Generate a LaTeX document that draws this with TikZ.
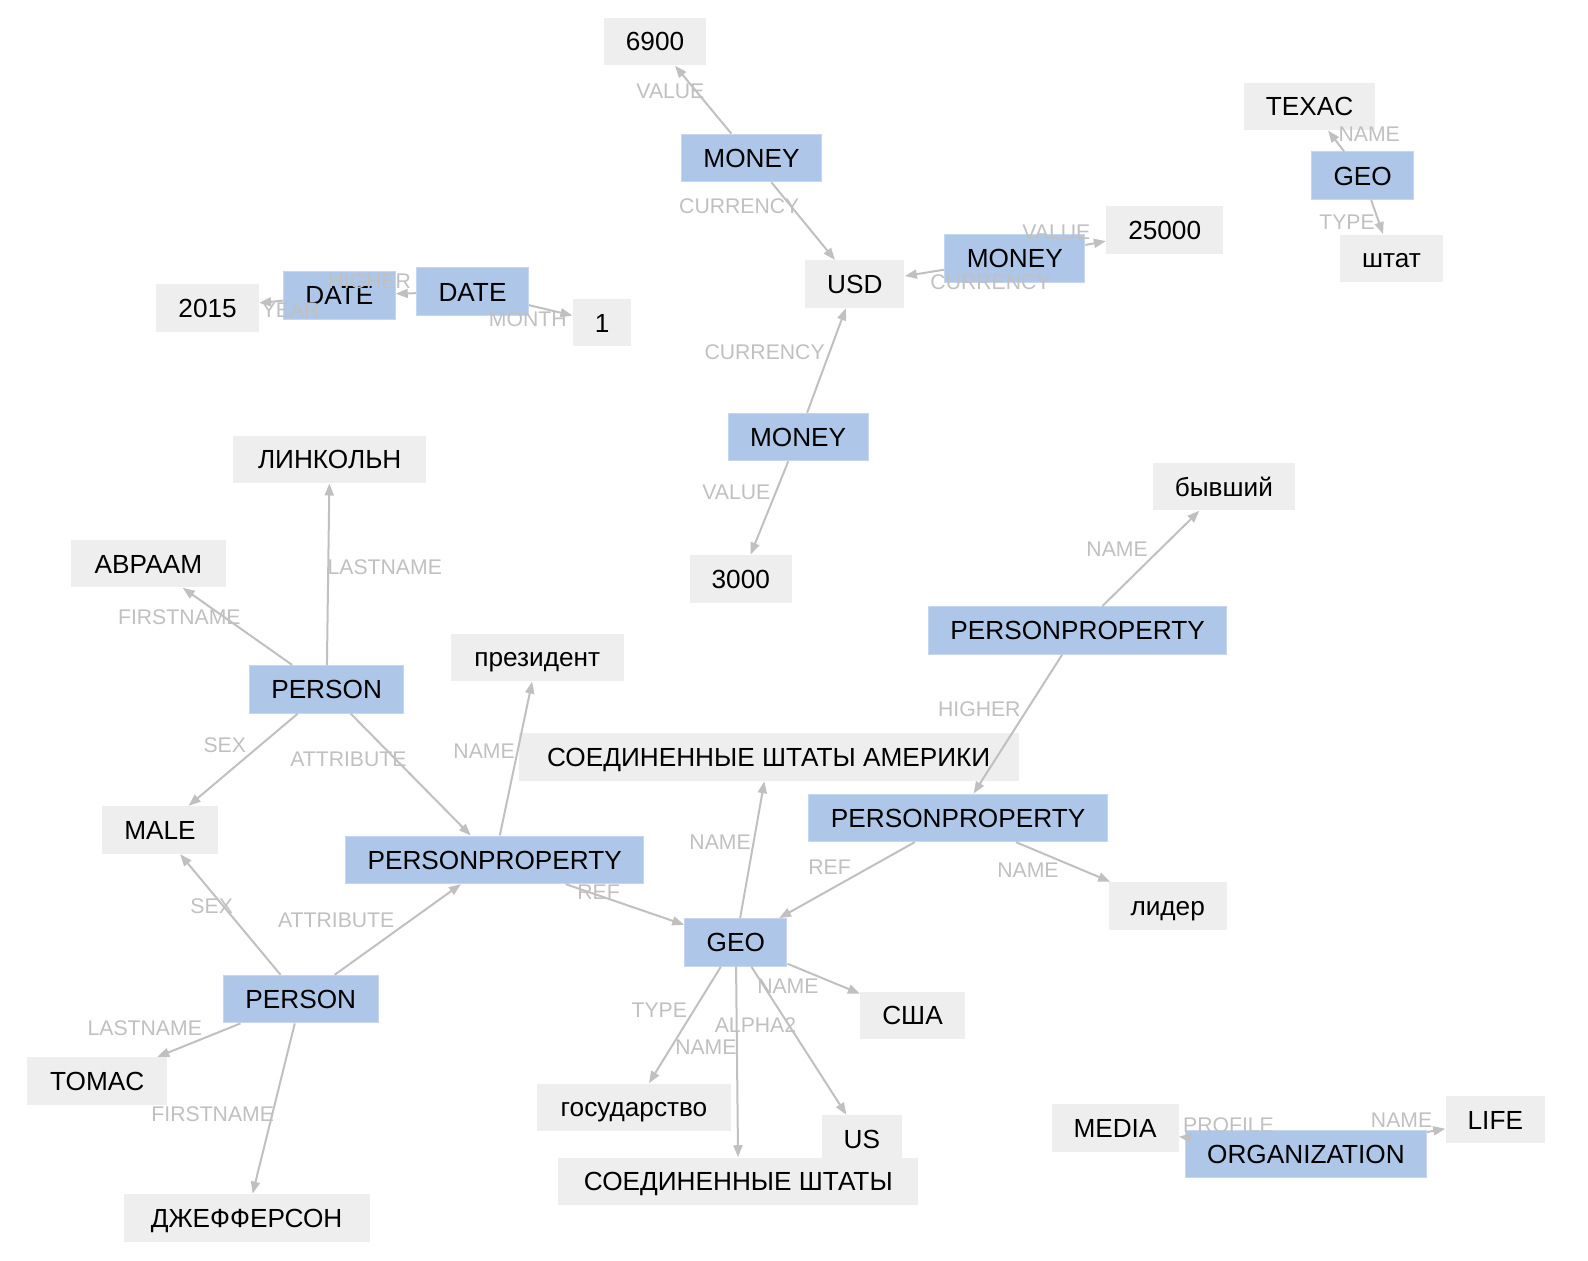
\documentclass[tikz,border=0pt]{standalone}
\usepackage{fontspec}
\setmainfont{Liberation Sans}
\usetikzlibrary{arrows.meta}
\definecolor{entBlue}{RGB}{174,199,232}
\definecolor{entLine}{RGB}{198,214,240}
\definecolor{valGray}{RGB}{238,238,238}
\definecolor{relGray}{RGB}{192,192,192}

\begin{document}
\begin{tikzpicture}[x=0.5pt,y=-0.5pt,
      ent/.style={fill=entBlue,draw=entLine,line width=0.5pt,minimum height=23.8pt,inner xsep=11pt,text height=9.4pt,text depth=0pt,font=\fontsize{13.1}{15}\selectfont},
      val/.style={fill=valGray,minimum height=23.8pt,inner xsep=11pt,text height=9.4pt,text depth=0pt,font=\fontsize{13.1}{15}\selectfont},
      rel/.style={-{Triangle[length=6pt,width=4.5pt]},relGray,line width=1pt},
      lbl/.style={text=relGray,inner sep=0pt,font=\fontsize{10.6}{12}\selectfont}]
    \useasboundingbox (0,0) rectangle (1588,1260);
    % money and date
    \node[val] (v6900) at (655,41.5) {6900};
    \node[ent] (moneyA) at (751.5,158) {MONEY};
    \node[val] (v25000) at (1164.7,230) {25000};
    \node[ent] (moneyB) at (1014.8,258.3) {MONEY};
    \node[val] (usd) at (854.8,284.1) {USD};
    \node[ent] (moneyC) at (798.1,437) {MONEY};
    \node[val] (v3000) at (740.8,578.8) {3000};
    \node[val] (v2015) at (207.6,307.9) {2015};
    \node[ent] (dateL) at (339.3,295.2) {DATE};
    \node[ent] (dateR) at (472.5,291.7) {DATE};
    \node[val] (v1) at (602.1,322.6) {1};
    % texas
    \node[val] (texas) at (1309.5,106.3) {TEXAC};
    \node[ent] (geoT) at (1362.7,175.7) {GEO};
    \node[val] (shtat) at (1391.5,258.3) {штат};
    % persons
    \node[val,minimum width=96.7pt] (lincoln) at (329.7,459.3) {ЛИНКОЛЬН};
    \node[val,minimum width=77.5pt] (abraam) at (148.4,563.6) {АВРААМ};
    \node[ent] (personA) at (326.6,689.2) {PERSON};
    \node[val] (male) at (160,830) {MALE};
    \node[ent] (personB) at (300.8,999.1) {PERSON};
    \node[val,minimum width=69.9pt] (tomas) at (97.2,1081.1) {TOMAC};
    \node[val,minimum width=123pt] (jefferson) at (246.6,1217.8) {ДЖЕФФЕРСОН};
    \node[val,minimum width=86.6pt] (president) at (537.3,657.3) {президент};
    \node[ent] (ppLeft) at (494.7,859.8) {PERSONPROPERTY};
    \node[val,minimum width=71.4pt] (byvshiy) at (1223.9,486.6) {бывший};
    \node[ent] (ppTop) at (1077.6,630.4) {PERSONPROPERTY};
    \node[ent] (ppMid) at (958.1,817.8) {PERSONPROPERTY};
    \node[val] (lider) at (1167.7,905.9) {лидер};
    % usa
    \node[val,minimum width=250pt] (usaFull) at (768.7,757) {СОЕДИНЕННЫЕ ШТАТЫ АМЕРИКИ};
    \node[ent] (geoC) at (735.8,942.4) {GEO};
    \node[val] (ssha) at (912.5,1015.3) {США};
    \node[val,minimum width=97pt] (gosudarstvo) at (634,1107.4) {государство};
    \node[val] (us) at (861.9,1138.9) {US};
    \node[val,minimum width=180pt] (usaShort) at (738.3,1181.4) {СОЕДИНЕННЫЕ ШТАТЫ};
    % organization
    \node[val] (media) at (1115,1127.7) {MEDIA};
    \node[ent] (org) at (1305.9,1154) {ORGANIZATION};
    \node[val] (life) at (1495.3,1119.6) {LIFE};

    \draw[rel] (moneyA) -- (v6900) node[lbl] at (670.4,91.1) {VALUE};
    \draw[rel] (moneyA) -- (usd) node[lbl] at (739.3,206.6) {CURRENCY};
    \draw[rel] (moneyB) -- (v25000) node[lbl] at (1056.3,231.9) {VALUE};
    \draw[rel] (moneyB) -- (usd) node[lbl] at (990.5,282.6) {CURRENCY};
    \draw[rel] (moneyC) -- (usd) node[lbl] at (764.6,352.4) {CURRENCY};
    \draw[rel] (moneyC) -- (v3000) node[lbl] at (736.3,492.2) {VALUE};
    \draw[rel] (geoT) -- (texas) node[lbl] at (1369.2,133.7) {NAME};
    \draw[rel] (geoT) -- (shtat) node[lbl] at (1347,221.8) {TYPE};
    \draw[rel] (dateR) -- (dateL) node[lbl] at (369.7,281.5) {HIGHER};
    \draw[rel] (dateL) -- (v2015) node[lbl] at (290.7,309.9) {YEAR};
    \draw[rel] (dateR) -- (v1) node[lbl] at (527.7,319) {MONTH};
    \draw[rel] (personA) -- (lincoln) node[lbl] at (384.8,567.1) {LASTNAME};
    \draw[rel] (personA) -- (abraam) node[lbl] at (179.3,616.8) {FIRSTNAME};
    \draw[rel] (personA) -- (male) node[lbl] at (224.8,745.4) {SEX};
    \draw[rel] (personA) -- (ppLeft) node[lbl] at (348.4,759.6) {ATTRIBUTE};
    \draw[rel] (ppLeft) -- (president) node[lbl] at (484.1,751.5) {NAME};
    \draw[rel] (ppLeft) -- (geoC) node[lbl] at (598.5,892.2) {REF};
    \draw[rel] (personB) -- (male) node[lbl] at (211.7,906.4) {SEX};
    \draw[rel] (personB) -- (ppLeft) node[lbl] at (336.2,920.6) {ATTRIBUTE};
    \draw[rel] (personB) -- (tomas) node[lbl] at (144.8,1027.9) {LASTNAME};
    \draw[rel] (personB) -- (jefferson) node[lbl] at (212.7,1114) {FIRSTNAME};
    \draw[rel] (ppTop) -- (byvshiy) node[lbl] at (1117.1,548.9) {NAME};
    \draw[rel] (ppTop) -- (ppMid) node[lbl] at (979.3,708.9) {HIGHER};
    \draw[rel] (ppMid) -- (geoC) node[lbl] at (829.5,866.9) {REF};
    \draw[rel] (ppMid) -- (lider) node[lbl] at (1028,870) {NAME};
    \draw[rel] (geoC) -- (usaFull) node[lbl] at (720.1,842.6) {NAME};
    \draw[rel] (geoC) -- (ssha) node[lbl] at (787.9,986.4) {NAME};
    \draw[rel] (geoC) -- (gosudarstvo) node[lbl] at (659.3,1009.7) {TYPE};
    \draw[rel] (geoC) -- (usaShort) node[lbl] at (705.9,1047.2) {NAME};
    \draw[rel] (geoC) -- (us) node[lbl] at (755.5,1024.9) {ALPHA2};
    \draw[rel] (org) -- (media) node[lbl] at (1228.5,1125.2) {PROFILE};
    \draw[rel] (org) -- (life) node[lbl] at (1401.6,1120.1) {NAME};
  \end{tikzpicture}
\end{document}
